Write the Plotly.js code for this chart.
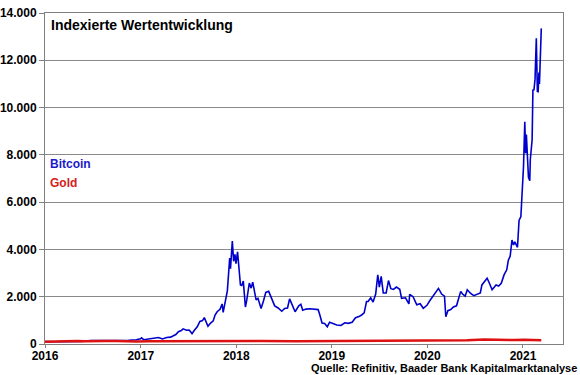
<!DOCTYPE html>
<html>
<head>
<meta charset="utf-8">
<script src="https://cdn.plot.ly/plotly-3.0.1.min.js"></script>
<style>html,body{margin:0;padding:0;background:#fff;}#chart{width:580px;height:375px;}</style>
</head>
<body>
<div id="chart"></div>
<script>
const btcDates = [
"2016-01-01","2016-01-15","2016-02-01","2016-02-15","2016-03-01","2016-03-15","2016-04-01","2016-04-15","2016-05-01","2016-05-15",
"2016-06-01","2016-06-10","2016-06-17","2016-06-25","2016-07-10","2016-07-25","2016-08-05","2016-08-20","2016-09-05","2016-09-20",
"2016-10-05","2016-10-20","2016-11-01","2016-11-15","2016-12-01","2016-12-15","2016-12-31",
"2017-01-04","2017-01-12","2017-01-25","2017-02-10","2017-02-25","2017-03-10","2017-03-25","2017-04-10","2017-04-25","2017-05-05",
"2017-05-15","2017-05-25","2017-06-05","2017-06-12","2017-06-25","2017-07-05","2017-07-16","2017-07-25","2017-08-05","2017-08-15",
"2017-08-25","2017-09-01","2017-09-15","2017-09-25","2017-10-05","2017-10-12","2017-10-20","2017-10-31","2017-11-08","2017-11-12",
"2017-11-20","2017-11-28","2017-12-07","2017-12-10","2017-12-17","2017-12-22","2017-12-27","2017-12-31",
"2018-01-06","2018-01-12","2018-01-17","2018-01-22","2018-01-28","2018-02-05","2018-02-10","2018-02-20","2018-02-27","2018-03-05",
"2018-03-18","2018-03-25","2018-04-06","2018-04-15","2018-04-24","2018-05-05","2018-05-15","2018-05-28","2018-06-10","2018-06-24",
"2018-07-05","2018-07-16","2018-07-24","2018-08-05","2018-08-14","2018-08-28","2018-09-05","2018-09-12","2018-09-25","2018-10-10",
"2018-10-25","2018-11-10","2018-11-16","2018-11-20","2018-11-25","2018-12-05","2018-12-15","2018-12-24",
"2019-01-05","2019-01-20","2019-02-05","2019-02-20","2019-03-05","2019-03-20","2019-04-02","2019-04-15","2019-04-25","2019-05-05",
"2019-05-14","2019-05-20","2019-05-30","2019-06-08","2019-06-18","2019-06-26","2019-07-02","2019-07-09","2019-07-17","2019-07-28",
"2019-08-06","2019-08-15","2019-08-25","2019-09-05","2019-09-18","2019-09-25","2019-10-10","2019-10-23","2019-10-26","2019-11-08",
"2019-11-22","2019-12-05","2019-12-17","2019-12-31",
"2020-01-10","2020-01-20","2020-02-01","2020-02-13","2020-02-25","2020-03-07","2020-03-12","2020-03-20","2020-03-31","2020-04-10",
"2020-04-22","2020-04-30","2020-05-08","2020-05-15","2020-05-25","2020-06-02","2020-06-15","2020-06-27","2020-07-10","2020-07-22",
"2020-07-28","2020-08-10","2020-08-17","2020-08-25","2020-09-05","2020-09-20","2020-09-30","2020-10-10","2020-10-21","2020-10-31",
"2020-11-06","2020-11-13","2020-11-20","2020-11-26","2020-12-01","2020-12-11","2020-12-17","2020-12-24","2020-12-31",
"2021-01-03","2021-01-08","2021-01-11","2021-01-14","2021-01-22","2021-01-27","2021-01-29","2021-02-05","2021-02-08","2021-02-12",
"2021-02-16","2021-02-21","2021-02-25","2021-02-28","2021-03-03","2021-03-05","2021-03-08","2021-03-11","2021-03-12"
];
const btcValues = [
100,89,85,92,99,94,95,98,102,103,
122,132,170,150,148,149,131,132,138,139,
139,143,166,161,170,177,218,
257,182,205,227,266,273,211,273,289,352,
398,523,568,640,580,591,439,580,727,955,
989,1114,750,886,977,1227,1364,1466,1693,1341,
1864,2250,3636,3182,4357,3500,3790,3400,
3900,3136,2500,2477,2659,1565,1841,2580,2364,2614,
1864,1932,1500,1818,2182,2227,1932,1614,1523,1386,
1500,1523,1909,1591,1364,1614,1682,1432,1477,1489,
1466,1455,1250,1023,886,864,730,920,
864,807,784,898,875,920,1114,1159,1227,1318,
1795,1795,1955,1773,2114,2920,2409,2864,2159,2159,
2682,2341,2307,2409,2318,1932,1955,1693,2102,2000,
1659,1705,1511,1636,
1818,1977,2136,2352,2114,2023,1155,1409,1455,1568,
1614,1955,2227,2114,2023,2295,2136,2045,2102,2159,
2500,2705,2784,2591,2295,2500,2455,2568,2932,3136,
3545,3705,4400,4190,4318,4091,5227,5386,6591,
7500,9400,8068,8864,7050,6909,7795,8636,10740,10750,
11182,12930,10682,10670,11477,11000,11864,13023,13350
];
const goldDates = [
"2016-01-01","2016-02-15","2016-04-01","2016-05-01","2016-06-01","2016-07-05","2016-08-15","2016-10-01","2016-10-15","2016-12-15",
"2017-02-01","2017-04-15","2017-06-01","2017-07-10","2017-09-08","2017-12-12","2018-01-25","2018-04-10","2018-08-16","2018-10-15",
"2019-01-01","2019-02-20","2019-05-01","2019-06-25","2019-09-04","2019-11-15","2020-01-08","2020-03-09","2020-03-19","2020-04-14",
"2020-06-01","2020-08-06","2020-09-30","2020-11-30","2021-01-05","2021-03-08","2021-03-12"
];
const goldValues = [
100,116,116,122,114,128,126,124,119,107,
114,121,121,114,127,118,127,127,112,116,
121,126,121,133,146,139,148,158,139,163,
163,194,178,168,184,160,163
];
const seriesNames = ["Bitcoin","Gold"];
const yearTicks = ["2016-01-01","2017-01-01","2018-01-01","2019-01-01","2020-01-01","2021-01-01"];
const yearLabels = ["2016","2017","2018","2019","2020","2021"];
const chartTitle = "Indexierte Wertentwicklung";
const sourceText = "Quelle: Refinitiv, Baader Bank Kapitalmarktanalyse";

const FONT = "Liberation Sans, Arial, sans-serif";
const BLUE = "#0000cc";
const RED = "#dd1111";

const traces = [
  {x: btcDates, y: btcValues, name: seriesNames[0], type: "scatter", mode: "lines",
   line: {color: BLUE, width: 1.6}, hoverinfo: "skip"},
  {x: goldDates, y: goldValues, name: seriesNames[1], type: "scatter", mode: "lines",
   line: {color: RED, width: 2.5}, hoverinfo: "skip"}
];

const layout = {
  width: 580, height: 375,
  margin: {l: 45, r: 17, t: 13, b: 31, pad: 0},
  paper_bgcolor: "#ffffff", plot_bgcolor: "#ffffff",
  showlegend: false,
  separators: ",.",
  font: {family: FONT, color: "#000", size: 12},
  xaxis: {
    type: "date",
    range: ["2016-01-01", "2021-06-03"],
    tickmode: "array", tickvals: yearTicks, ticktext: yearLabels,
    showgrid: false, zeroline: false,
    showline: true, mirror: true, linecolor: "#808080", linewidth: 1,
    ticks: "outside", ticklen: 3, tickcolor: "#808080",
    ticklabelstandoff: -2,
    tickfont: {family: FONT, size: 12, color: "#000", weight: "bold"}
  },
  yaxis: {
    range: [0, 14000], dtick: 2000, tick0: 0,
    tickformat: ",d",
    showgrid: true, gridcolor: "#8a8a8a", gridwidth: 1, zeroline: false,
    showline: true, mirror: true, linecolor: "#808080", linewidth: 1,
    ticks: "outside", ticklen: 5, tickcolor: "#808080",
    tickfont: {family: FONT, size: 12, color: "#000", weight: "bold"}
  },
  annotations: [
    {text: "<b>" + chartTitle + "</b>", xref: "paper", yref: "paper",
     x: 0.008, y: 0.995, xanchor: "left", yanchor: "top", showarrow: false,
     font: {family: FONT, size: 14, color: "#000"}},
    {text: "<b>" + seriesNames[0] + "</b>", xref: "paper", yref: "paper",
     x: 0.006, y: 0.543, xanchor: "left", yanchor: "middle", showarrow: false,
     font: {family: FONT, size: 12, color: "#1a1acc"}},
    {text: "<b>" + seriesNames[1] + "</b>", xref: "paper", yref: "paper",
     x: 0.006, y: 0.486, xanchor: "left", yanchor: "middle", showarrow: false,
     font: {family: FONT, size: 12, color: "#d42020"}},
    {text: "<b>" + sourceText + "</b>", xref: "paper", yref: "paper",
     x: 1.031, y: -0.072, xanchor: "right", yanchor: "middle", showarrow: false,
     font: {family: FONT, size: 11, color: "#000"}}
  ]
};

Plotly.newPlot("chart", traces, layout, {staticPlot: true, displayModeBar: false});
</script>
</body>
</html>
